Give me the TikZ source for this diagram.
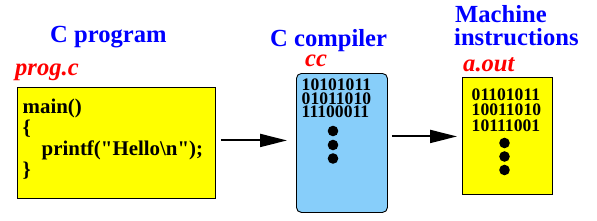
\documentclass[tikz,border=0pt]{standalone}
\usepackage{fontspec}
\setmainfont{Liberation Serif}
\newfontfamily\codefont{Liberation Serif}
\usetikzlibrary{arrows.meta}
\definecolor{ttlblue}{RGB}{0,0,255}
\definecolor{lblred}{RGB}{255,0,0}
\definecolor{boxyellow}{RGB}{255,255,0}
\definecolor{boxblue}{RGB}{135,206,250}
\begin{document}
\begin{tikzpicture}[x=1pt,y=-1pt,
  title/.style={anchor=base west,inner sep=0pt,text=ttlblue,font=\fontsize{24.6}{24.6}\selectfont\bfseries},
  lbl/.style={anchor=base west,inner sep=0pt,text=lblred,font=\fontsize{24.6}{24.6}\selectfont\bfseries\itshape},
  code/.style={anchor=base west,inner sep=0pt,font=\codefont\fontsize{20.9}{20.9}\selectfont\bfseries},
  bits/.style={anchor=base west,inner sep=0pt,font=\fontsize{17.6}{17.6}\selectfont\bfseries},
  box/.style={draw=black,line width=0.9pt,anchor=north west,inner sep=0pt},
  arr/.style={line width=2pt,-{Triangle[length=27pt,width=13pt]}},
  dot/.style={fill=black}]
\useasboundingbox (0,0) rectangle (597,220);
% boxes
\node[box,fill=boxyellow,minimum width=198pt,minimum height=111pt] (src) at (17,87) {};
\node[box,fill=boxblue,rounded corners=5pt,minimum width=91pt,minimum height=139pt] (cc) at (296,73) {};
\node[box,fill=boxyellow,minimum width=90pt,minimum height=117pt] (aout) at (462,77) {};
% titles
\node[title] (t1) at (50,42) {C program};
\node[title] (t2) at (270,46) {C compiler};
\node[title] (t3a) at (455,22) {Machine};
\node[title] (t3b) at (454,45) {instructions};
% labels
\node[lbl] (l1) at (15,75) {prog.c};
\node[lbl] (l2) at (305,66.5) {cc};
\node[lbl] (l3) at (463,71.5) {a.out};
% code
\node[code] (c1) at (22.5,113) {main()};
\node[code] (c2) at (22.5,134) {\{};
\node[code] (c3) at (41.5,155) {printf("Hello\textbackslash n");};
\node[code] (c4) at (22.5,176.5) {\}};
% bits in cc
\node[bits] (b1) at (301.5,90.5) {10101011};
\node[bits] (b2) at (301.5,104) {01011010};
\node[bits] (b3) at (301.5,117.5) {11100011};
% bits in a.out
\node[bits] (d1) at (471.5,100.5) {01101011};
\node[bits] (d2) at (471.5,115.5) {10011010};
\node[bits] (d3) at (471.5,131) {10111001};
% dots
\fill[dot] (333,131) circle (5.3);
\fill[dot] (333,145) circle (5.3);
\fill[dot] (333,158.5) circle (5.3);
\fill[dot] (504.5,143) circle (5.3);
\fill[dot] (504.5,156.5) circle (5.3);
\fill[dot] (504.5,170) circle (5.3);
% arrows
\draw[arr,shorten <=5pt,shorten >=9pt] ([yshift=2.5pt]src.east) -- ([yshift=2.5pt]cc.west);
\draw[arr,shorten <=4pt,shorten >=5pt] ([yshift=6.5pt]cc.east) -- ([yshift=-0.5pt]aout.west);
\end{tikzpicture}
\end{document}
